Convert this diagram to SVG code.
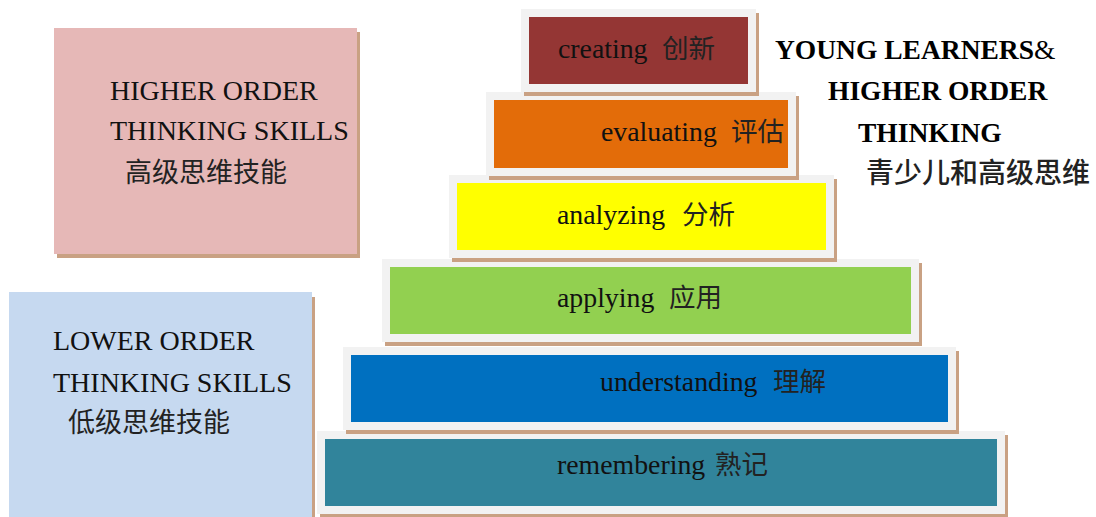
<svg xmlns="http://www.w3.org/2000/svg" width="1096" height="517" viewBox="0 0 1096 517">
<defs>
<style>
.shadow{fill:#c9a183}
.frame{fill:#f2f2f2}
.en{font-family:"Liberation Serif","Times New Roman",serif;fill:#111}
.zh{font-family:"Noto Sans CJK SC","Noto Sans CJK JP",sans-serif;fill:#222}
.side{font-size:28px}
.sidezh{font-size:27px}
.tier{font-size:27.8px}
.tierzh{font-size:26.5px}
.title{font-family:"Liberation Serif","Times New Roman",serif;font-weight:bold;font-size:27.5px;fill:#000}
</style>
</defs>
<rect width="1096" height="517" fill="#ffffff"/>

<g id="higher-box">
<rect class="shadow" x="57" y="32" width="303" height="226"/>
<rect x="54" y="28" width="303" height="226" fill="#e6b8b7"/>
<text class="en side" x="110" y="100">HIGHER ORDER</text>
<text class="en side" x="110" y="140">THINKING SKILLS</text>
<text class="zh sidezh" x="125" y="182">高级思维技能</text>
</g>

<g id="lower-box">
<rect class="shadow" x="12" y="297" width="303" height="220"/>
<rect x="9" y="292" width="303" height="225" fill="#c6d9f0"/>
<text class="en side" x="53" y="350">LOWER ORDER</text>
<text class="en side" x="53" y="392">THINKING SKILLS</text>
<text class="zh sidezh" x="68" y="432">低级思维技能</text>
</g>

<g id="title">
<text class="title" x="775" y="59">YOUNG LEARNERS<tspan font-weight="normal">&amp;</tspan></text>
<text class="title" x="828" y="100">HIGHER ORDER</text>
<text class="title" x="858" y="142">THINKING</text>
<text class="zh" x="866" y="183" font-size="28" font-weight="500" fill="#000">青少儿和高级思维</text>
</g>

<g id="remembering">
<rect class="shadow" x="320" y="435" width="688" height="83"/>
<rect class="frame" x="317" y="431" width="688" height="83"/>
<rect x="325" y="439" width="672" height="67" fill="#31849b"/>
<text class="en tier" x="557" y="474">remembering</text>
<text class="zh tierzh" x="715" y="474">熟记</text>
</g>

<g id="understanding">
<rect class="shadow" x="346" y="351" width="613" height="83"/>
<rect class="frame" x="343" y="347" width="613" height="83"/>
<rect x="351" y="355" width="597" height="67" fill="#0070c0"/>
<text class="en tier" x="600" y="391">understanding</text>
<text class="zh tierzh" x="773" y="391">理解</text>
</g>

<g id="applying">
<rect class="shadow" x="385" y="263" width="537" height="83"/>
<rect class="frame" x="382" y="259" width="537" height="83"/>
<rect x="390" y="267" width="521" height="67" fill="#92d050"/>
<text class="en tier" x="557" y="307">applying</text>
<text class="zh tierzh" x="669" y="307">应用</text>
</g>

<g id="analyzing">
<rect class="shadow" x="452" y="179" width="385" height="83"/>
<rect class="frame" x="449" y="175" width="385" height="83"/>
<rect x="457" y="183" width="369" height="67" fill="#ffff00"/>
<text class="en tier" x="557" y="224">analyzing</text>
<text class="zh tierzh" x="682" y="224">分析</text>
</g>

<g id="evaluating">
<rect class="shadow" x="489" y="96" width="310" height="84"/>
<rect class="frame" x="486" y="92" width="310" height="84"/>
<rect x="494" y="100" width="294" height="68" fill="#e36c09"/>
<text class="en tier" x="601" y="141">evaluating</text>
<text class="zh tierzh" x="731" y="141">评估</text>
</g>

<g id="creating">
<rect class="shadow" x="524" y="13" width="235" height="83"/>
<rect class="frame" x="521" y="9" width="235" height="83"/>
<rect x="529" y="17" width="219" height="67" fill="#943634"/>
<text class="en tier" x="558" y="58">creating</text>
<text class="zh tierzh" x="662" y="58">创新</text>
</g>

<g id="connectors"></g>
</svg>
